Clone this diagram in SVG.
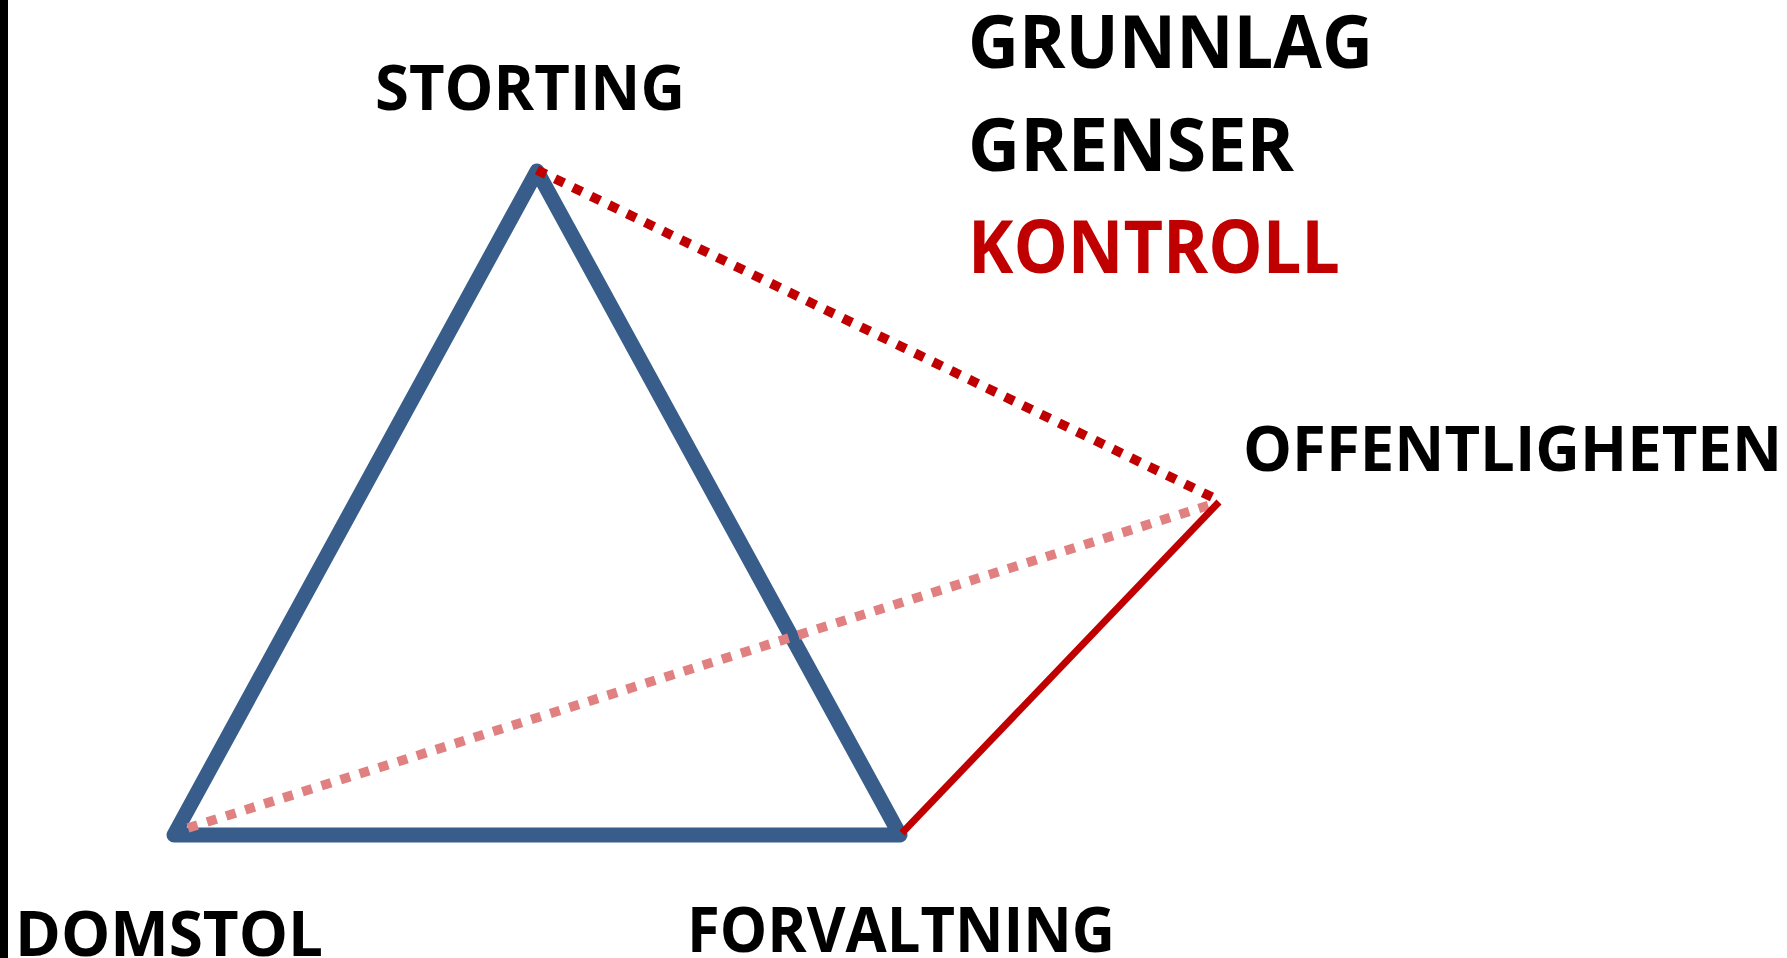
<svg xmlns="http://www.w3.org/2000/svg" width="1787" height="958" viewBox="0 0 1787 958">
<style>
.lbl{font-family:"Open Sans","Liberation Sans",sans-serif;font-weight:700;fill:#000000}
.lab{font-size:62px}
.ttl{font-size:74px}
.red{fill:#C00000}
.tri{fill:none;stroke:#385D8A;stroke-width:15;stroke-linejoin:round;stroke-linecap:round}
.solid{stroke:#C00000;stroke-width:7;fill:none}
.dotted{stroke:#C00000;stroke-width:9.5;stroke-dasharray:10 10;fill:none}
.faint{stroke:#E08080;stroke-width:9.5;stroke-dasharray:10 10;fill:none}
</style>
<rect width="1787" height="958" fill="#FFFFFF"/>
<rect x="0" y="0" width="8" height="958" fill="#000000"/>
<g id="connectors">
  <path class="tri" d="M537,171 L900,835 L174,835 Z"/>
  <line class="faint" x1="188" y1="828" x2="1213" y2="504"/>
  <line class="dotted" x1="537" y1="170" x2="1216" y2="499"/>
  <line class="solid" x1="902" y1="833" x2="1219" y2="502"/>
</g>
<g id="storting"><text class="lbl lab" x="375" y="110" textLength="310" lengthAdjust="spacingAndGlyphs">STORTING</text></g>
<g id="offentligheten"><text class="lbl lab" x="1243" y="471" textLength="539" lengthAdjust="spacingAndGlyphs">OFFENTLIGHETEN</text></g>
<g id="domstol"><text class="lbl lab" x="15" y="956" textLength="308" lengthAdjust="spacingAndGlyphs">DOMSTOL</text></g>
<g id="forvaltning"><text class="lbl lab" x="687" y="952" textLength="428" lengthAdjust="spacingAndGlyphs">FORVALTNING</text></g>
<g id="titles">
  <text class="lbl ttl" x="968" y="68" textLength="405" lengthAdjust="spacingAndGlyphs">GRUNNLAG</text>
  <text class="lbl ttl" x="968" y="171" textLength="326" lengthAdjust="spacingAndGlyphs">GRENSER</text>
  <text class="lbl ttl red" x="968" y="273" textLength="372" lengthAdjust="spacingAndGlyphs">KONTROLL</text>
</g>
</svg>
